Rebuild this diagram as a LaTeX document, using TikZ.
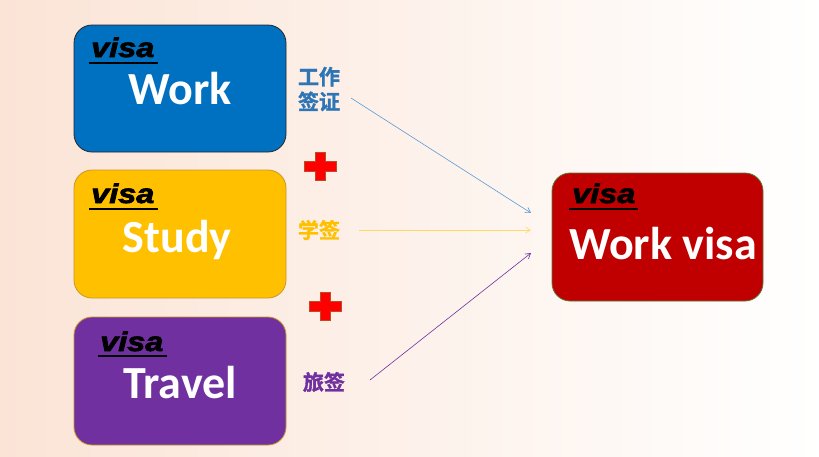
\documentclass[tikz,border=0pt]{standalone}
\usepackage{fontspec}
\setmainfont{Carlito}
\newfontfamily\visafont[FakeBold=2.5]{Liberation Sans}
\newfontfamily\cjkfont[BoldFont={* Bold}, BoldFeatures={FakeBold=1.5}]{Noto Sans CJK SC}
\usetikzlibrary{arrows.meta}
\definecolor{bgleft}{RGB}{251,228,214}
\definecolor{workblue}{RGB}{0,112,192}
\definecolor{studyyellow}{RGB}{255,192,0}
\definecolor{travelpurple}{RGB}{112,48,160}
\definecolor{resultred}{RGB}{192,0,0}
\definecolor{labelblue}{RGB}{46,117,182}
\definecolor{arrowblue}{RGB}{91,155,213}
\definecolor{arrowyellow}{RGB}{255,217,102}
\definecolor{plusborder}{RGB}{190,75,40}
\definecolor{goldborder}{RGB}{200,150,40}
\definecolor{greenborder}{RGB}{90,120,60}
\tikzset{
  visabox/.style={rounded corners=18pt, line width=0.8pt},
  visaword/.style={font=\visafont\bfseries\itshape\fontsize{27}{27}\selectfont, text=black, inner sep=0pt, anchor=base west, xscale=1.2},
  bigword/.style={font=\bfseries\fontsize{46}{46}\selectfont, text=white, inner sep=0pt, anchor=base},
  cjklabel/.style={font=\cjkfont\bfseries\fontsize{21}{25}\selectfont, inner sep=0pt, align=center},
  thinarrow/.style={line width=0.6pt, -{Straight Barb[length=5pt,width=6pt]}},
  underl/.style={line width=2pt, black}
}
\newcommand{\plussign}[2]{%
  \fill[red, draw=plusborder, line width=0.6pt, shift={(#1,#2)}]
    (-5,-14) -- (5,-14) -- (5,-5) -- (16,-5) -- (16,5) -- (5,5) -- (5,14) -- (-5,14) -- (-5,5) -- (-16,5) -- (-16,-5) -- (-5,-5) -- cycle;}
\begin{document}
\begin{tikzpicture}[x=1pt,y=-1pt]
\useasboundingbox (0,0) rectangle (819,456);
\shade[left color=bgleft, right color=white] (0,0) rectangle (819,456);

% boxes
\draw[visabox, fill=workblue, draw=black!85] (74,25) rectangle (286,152);
\draw[visabox, fill=studyyellow, draw=goldborder] (74,170) rectangle (286,298);
\draw[visabox, fill=travelpurple, draw=goldborder] (74,317) rectangle (286,445);
\draw[visabox, fill=resultred, draw=greenborder] (552,173) rectangle (763,301);

% visa words
\node[visaword] (v1) at (91,57) {visa};
\draw[underl] (89,63) -- (158,63);
\node[visaword] (v2) at (91,203) {visa};
\draw[underl] (89,209) -- (158,209);
\node[visaword] (v3) at (100,351) {visa};
\draw[underl] (98,356) -- (167,356);
\node[visaword] (v4) at (572,203) {visa};
\draw[underl] (569,209) -- (638,209);

% big words
\node[bigword] (work) at (180.5,104) {Work};
\node[bigword] (study) at (177,252) {Study};
\node[bigword] (travel) at (180,398) {Travel};
\node[bigword] (result) at (663,259) {Work visa};

% chinese labels
\node[cjklabel, text=labelblue] (l1) at (319,89) {工作\\签证};
\node[cjklabel, text=studyyellow] (l2) at (319,230) {学签};
\node[cjklabel, text=travelpurple] (l3) at (324,382) {旅签};

% plus signs
\plussign{320}{166}
\plussign{325}{306}

% arrows
\coordinate (a1s) at (351,98);
\coordinate (a1e) at (531,213);
\coordinate (a2s) at (359,230);
\coordinate (a2e) at (531,230);
\coordinate (a3s) at (370,380);
\coordinate (a3e) at (531,253);
\draw[thinarrow, arrowblue] (a1s) -- (a1e);
\draw[thinarrow, arrowyellow] (a2s) -- (a2e);
\draw[thinarrow, travelpurple] (a3s) -- (a3e);
\end{tikzpicture}
\end{document}
